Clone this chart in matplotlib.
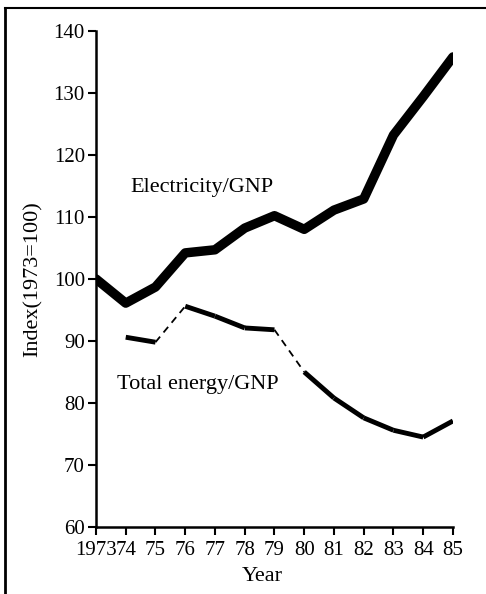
import matplotlib
matplotlib.use('Agg')
import matplotlib.pyplot as plt
from matplotlib.lines import Line2D

# index values, 1973 = 100
years = [1973, 1974, 1975, 1976, 1977, 1978, 1979, 1980, 1981, 1982, 1983, 1984, 1985]
electricity = [100, 96.1, 98.7, 104.2, 104.7, 108.2, 110.2, 108, 111.1, 112.9, 123.2, 129.4, 135.8]

energy_years = [1974, 1975, 1976, 1977, 1978, 1979, 1980, 1981, 1982, 1983, 1984, 1985]
total_energy = [90.6, 89.8, 95.6, 94.0, 92.1, 91.8, 85.0, 80.8, 77.6, 75.6, 74.5, 77.1]
# segments drawn dashed in the original (start year of the segment)
dashed_from = [1975, 1979]

xtick_labels = ['1973', '74', '75', '76', '77', '78', '79', '80', '81', '82', '83', '84', '85']
yticks = [60, 70, 80, 90, 100, 110, 120, 130, 140]

plt.rcParams['font.family'] = ['Liberation Serif', 'DejaVu Serif']

fig = plt.figure(figsize=(4.86, 5.94), dpi=100)
ax = fig.add_axes([0.1975, 0.1128, 0.7345, 0.8352])

ax.plot(years, electricity, color='black', linewidth=6.8, solid_joinstyle='round',
        solid_capstyle='round')

for i in range(len(energy_years) - 1):
    seg_x = energy_years[i:i + 2]
    seg_y = total_energy[i:i + 2]
    if energy_years[i] in dashed_from:
        ax.plot(seg_x, seg_y, color='black', linewidth=1.3, linestyle=(0, (4, 3)))
    else:
        ax.plot(seg_x, seg_y, color='black', linewidth=3.5, solid_capstyle='butt',
                solid_joinstyle='round')

ax.text(1974.15, 114.7, 'Electricity/GNP', fontsize=16, va='center', ha='left')
ax.text(1973.7, 82.9, 'Total energy/GNP', fontsize=16, va='center', ha='left')

ax.set_xlim(1973, 1985)
ax.set_ylim(60, 140)
ax.set_xticks(years)
ax.set_xticklabels(xtick_labels)
ax.set_yticks(yticks)
ax.tick_params(direction='out', length=6, width=1.5, labelsize=15)
ax.tick_params(axis='x', pad=4)
ax.tick_params(axis='y', pad=2)

for side in ['top', 'right']:
    ax.spines[side].set_visible(False)
for side in ['left', 'bottom']:
    ax.spines[side].set_linewidth(1.8)

ax.set_xlabel('Year', fontsize=16, va='center')
ax.xaxis.set_label_coords(0.465, -0.1)
ax.set_ylabel('Index(1973=100)', fontsize=16, va='center')
ax.yaxis.set_label_coords(-0.175, 0.5)

# page border from the scan
fig.add_artist(Line2D([0.01, 0.01], [0.0, 0.986], transform=fig.transFigure,
                      color='black', linewidth=2))
fig.add_artist(Line2D([0.01, 1.0], [0.986, 0.986], transform=fig.transFigure,
                      color='black', linewidth=1.5))

fig.savefig('out.png', dpi=100)
